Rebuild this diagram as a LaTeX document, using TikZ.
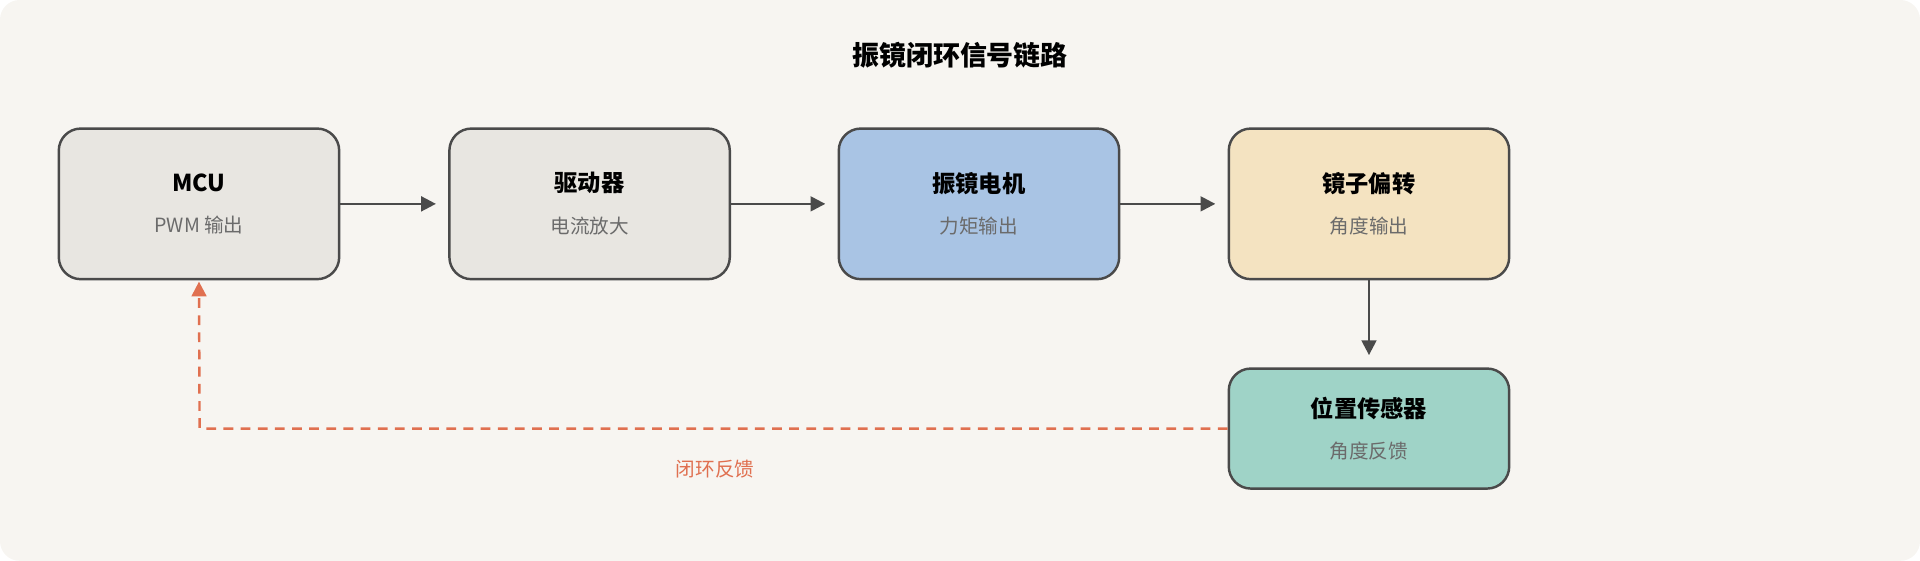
\documentclass[tikz,border=0pt]{standalone}
\usepackage{fontspec}
\setmainfont{Noto Sans CJK SC}
\usetikzlibrary{positioning}
\usetikzlibrary{arrows.meta}
\definecolor{bgcol}{HTML}{F7F5F1}
\definecolor{edgecol}{HTML}{4A4A4A}
\definecolor{graybox}{HTML}{E8E6E1}
\definecolor{bluebox}{HTML}{A9C4E4}
\definecolor{yellowbox}{HTML}{F4E3C1}
\definecolor{greenbox}{HTML}{9FD3C7}
\definecolor{subcol}{HTML}{6B6B6B}
\definecolor{loopcol}{HTML}{E07050}
\tikzset{
  block/.style={draw=edgecol, line width=1pt, rounded corners=9pt, minimum width=114.5pt, align=center},
  flow/.style={-{Triangle[length=6pt,width=6pt]}, edgecol, line width=1pt},
}
\newcommand{\blocktext}[2]{{\fontsize{9.5pt}{12pt}\selectfont\bfseries #1}\\[5pt]{\fontsize{8pt}{10pt}\selectfont\color{subcol}#2}}
\begin{document}
\begin{tikzpicture}[x=0.5pt,y=-0.5pt]
        \fill[bgcol, rounded corners=8pt] (0,0) rectangle (1568,458);

        \node[font=\fontsize{11pt}{13pt}\selectfont\bfseries] (title) at (784,45) {振镜闭环信号链路};

        % forward chain
        \node[block, fill=graybox, minimum height=61.5pt] (mcu) at (162.5,166.5) {\blocktext{MCU}{PWM 输出}};
        \node[block, fill=graybox, minimum height=61.5pt] (drv) at (481.5,166.5) {\blocktext{驱动器}{电流放大}};
        \node[block, fill=bluebox, minimum height=61.5pt] (motor) at (799.5,166.5) {\blocktext{振镜电机}{力矩输出}};
        \node[block, fill=yellowbox, minimum height=61.5pt] (mirror) at (1118,166.5) {\blocktext{镜子偏转}{角度输出}};
        \node[block, fill=greenbox, minimum height=49pt] (sensor) at (1118,350) {\blocktext{位置传感器}{角度反馈}};

        \draw[flow] (mcu.east) -- ([xshift=-5pt]drv.west);
        \draw[flow] (drv.east) -- ([xshift=-5pt]motor.west);
        \draw[flow] (motor.east) -- ([xshift=-5pt]mirror.west);
        \draw[flow] (mirror.south) -- ([yshift=5pt]sensor.north);

        % feedback loop
        \coordinate (corner) at (163,350);
        \draw[-{Triangle[length=6pt,width=6pt]}, loopcol, line width=1pt, dash pattern=on 4pt off 3pt]
          (sensor.west) -- (corner) -- ([yshift=-0.5pt]mcu.south);
        \node[text=loopcol, font=\fontsize{8pt}{10pt}\selectfont] (fblabel) at (584,383) {闭环反馈};
\end{tikzpicture}
\end{document}
